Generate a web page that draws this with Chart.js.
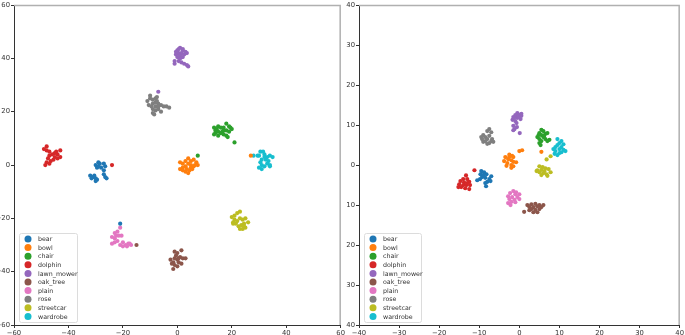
<!DOCTYPE html>
<html><head><meta charset="utf-8">
<script src="https://cdn.jsdelivr.net/npm/chart.js@4.4.1/dist/chart.umd.min.js"></script>
<style>
html,body{margin:0;padding:0;background:#fff;width:685px;height:335px;overflow:hidden;}
#w1{position:absolute;left:0;top:0;width:346px;height:335px;}
#w2{position:absolute;left:345px;top:0;width:340px;height:335px;}
</style></head><body>
<div id="w1"><canvas id="c1"></canvas></div>
<div id="w2"><canvas id="c2"></canvas></div>
<script>
const categories = ['bear','bowl','chair','dolphin','lawn_mower','oak_tree','plain','rose','streetcar','wardrobe'];
const colors = ['#1f77b4','#ff7f0e','#2ca02c','#d62728','#9467bd','#8c564b','#e377c2','#7f7f7f','#bcbd22','#17becf'];
const leftTicks = [-60,-40,-20,0,20,40,60];
const rightTicks = [-40,-30,-20,-10,0,10,20,30,40];

// Left panel
const leftBear = [[-30,0],[-29,1],[-28.5,0.5],[-27,0.5],[-26.5,-0.5],[-29.5,-1],[-28,-1],[-27,-2],[-32,-4],[-31,-4.5],[-30,-5],[-29.5,-5.5],[-30.5,-4],[-31.5,-5],[-27,-3.5],[-26.5,-4.5],[-26,-5],[-30,-6],[-29,-0.5],[-21,-22]];
const leftBowl = [[1,1],[2,0.5],[3,1.5],[4,2.5],[5,1.5],[6,2],[7,1],[6.5,0],[7.5,0],[5,0],[4,0.5],[3,-0.5],[2,-1],[1,-1.5],[2,-2],[3,-2.5],[4,-3],[5,-1],[6,-0.5],[3.5,-1.5],[4.5,-2],[5.5,-1.5],[27,3.5]];
const leftChair = [[13.5,14],[14,13],[15,14.5],[16,14],[17,14],[18,15.5],[19,14.5],[20,13.5],[14,12],[15,12.5],[16,12],[17,13],[18,13],[19,12.5],[13.5,11.5],[15,11],[17,11.5],[18,11],[18.5,10.5],[16.5,12.5],[19.5,14],[14.5,13.5],[21,8.5],[7.5,3.5]];
const leftDolphin = [[-49,6],[-48,7],[-48,5.5],[-47,5],[-46,4],[-47,3.5],[-45,3],[-44,4],[-43,5.5],[-44,2.5],[-43,3],[-45.5,2],[-46.5,1.5],[-48,1],[-48.5,0],[-47,0.5],[-45,4.5],[-44.5,5],[-47.5,2.5],[-24,0]];
const leftLawnMower = [[0,43],[1,44],[2,43],[0.5,42],[1.5,42],[-0.5,41.5],[2.5,41.5],[3.5,42],[1,41],[0,40.5],[2,40.5],[1,40],[-1,39],[-1,38],[0.5,39],[1.5,38.5],[2.5,38],[3.5,37.5],[4,37],[2,43.5],[-0.5,42.5],[3,42.5],[0.5,43.5],[-7,27.5]];
const leftOakTree = [[1.5,-32],[0,-33],[-1,-32.5],[-0.5,-34],[1,-34.5],[2,-35],[3,-35],[0,-35.5],[-1,-35],[-2.5,-35.5],[-1.5,-36.5],[0.5,-36.5],[1.5,-37],[-1,-37.5],[0,-38],[-1.5,-39],[-2,-37],[0.5,-35],[-15,-30]];
const leftPlain = [[-21,-23.5],[-22,-25],[-23,-25.5],[-22.5,-26.5],[-21.5,-26.5],[-20.5,-26.5],[-24,-27],[-23,-27.5],[-24,-29.5],[-23,-29],[-22,-28.5],[-20,-29],[-19,-30],[-18,-29.5],[-17,-30],[-18.5,-30.5],[-20,-30.5],[-21,-30],[-17.5,-29.5]];
const leftRose = [[-11,24],[-10,25],[-10,26],[-9,24.5],[-8,25],[-7.5,25.5],[-9,23],[-8,23.5],[-7,23],[-10.5,22.5],[-9.5,22],[-8,22],[-7,22],[-6,22.5],[-5,22],[-4,22],[-3,21.5],[-9,21],[-8,20.5],[-7,21],[-9,19.5],[-8.5,19],[-6,20],[-7.5,24]];
const leftStreetcar = [[20,-19.5],[21,-19],[22,-18],[23,-17.5],[21,-20.5],[20.5,-21.5],[22,-21],[23,-20],[24,-20.5],[25,-20],[26,-21.5],[24.5,-22],[23.5,-22.5],[22.5,-23],[23,-24],[24,-24],[25,-23.5],[21.5,-22],[20.5,-22],[24.5,-23]];
const leftWardrobe = [[28,3.5],[30,3.5],[30.5,5],[31.5,5],[32,4],[33,3],[34,3.5],[35,3],[31,2],[32.5,2],[33.5,1.5],[30.5,1],[31,0],[32,-0.5],[33,0.5],[34,0],[30,-1],[31,-1.5],[34,-0.5],[32,3],[29.5,3.5]];

// Right panel
const rightBear = [[-9.5,-1.5],[-8.8,-1.8],[-9.7,-2.3],[-8.2,-2.3],[-7,-2.8],[-9.3,-3],[-8.5,-3.2],[-10.5,-3.8],[-9.8,-3.5],[-7.5,-3.5],[-8,-4.2],[-7.2,-4],[-8.5,-4.5],[-8.3,-5.3],[-9,-2.5]];
const rightBowl = [[0,3.5],[0.7,3.7],[-2.5,2.6],[-1.8,2.3],[-3.5,2],[-2.8,1.5],[-2,1.2],[-1.5,2],[-3.8,1],[-3,0.5],[-1.5,0.8],[-0.8,0.7],[-2,0],[-3.2,-0.2],[-2,-0.7],[-1.5,-0.3],[-2.5,2],[5.5,3.3]];
const rightChair = [[5.5,8.8],[6,8.5],[5,8],[6.5,7.8],[7,8],[5.5,7.5],[6,7],[4.5,7],[5,6.5],[6.5,6.5],[7.5,6.3],[7,6],[5.5,6],[5,5.5],[5.3,5],[6.2,7.3],[4.8,7.5]];
const rightDolphin = [[-11.2,-1.3],[-13.3,-2.6],[-14,-3.5],[-13,-3.5],[-14.7,-4],[-13.8,-4.3],[-12.5,-4.2],[-15,-4.8],[-14,-5],[-13.2,-5],[-12.3,-5],[-14.5,-5.5],[-13.5,-5.8],[-12.5,-6],[-15.2,-5.5],[-13,-4.5]];
const rightLawnMower = [[-0.5,13],[0,12.5],[0.5,12.3],[-1,12.5],[-1.5,12],[-0.5,11.8],[0.3,11.5],[-1,11],[-1.7,11.3],[0.5,12.8],[-0.7,10.5],[-1.5,9.8],[-1.2,9],[-0.6,9.5],[-1.5,8.7],[0.1,8.0],[-0.2,12.2],[-1.3,11.8]];
const rightOakTree = [[2,-10],[3,-9.8],[4,-9.7],[5,-10],[6,-10],[2.5,-10.5],[3.5,-10.5],[4.5,-10.3],[5.5,-10.5],[3,-11],[4,-11.2],[5,-11],[3.5,-11.8],[4.5,-11.8],[1.2,-11.7],[2.5,-11.3]];
const rightPlain = [[-1.5,-6.5],[-0.8,-6.8],[-2.3,-7],[-1,-7.3],[0,-7.3],[-2.8,-7.8],[-1.8,-8],[-0.5,-8],[-2.5,-8.5],[-1.2,-8.7],[0,-8.5],[-2.8,-9.5],[-2,-9.2],[-1,-9.3],[-2.2,-10]];
const rightRose = [[-7.5,9],[-8,8.5],[-7,8.2],[-9,7.5],[-8.5,7],[-7.5,7.3],[-9.5,7],[-8,6.5],[-6.8,6.5],[-7,6],[-8.5,6],[-9,5.8],[-7.5,5.5],[-6.5,5.8],[-8,5.3],[-9.3,6.5]];
const rightStreetcar = [[5,-0.3],[5.8,-0.5],[6.5,-0.8],[4.5,-1.3],[5.5,-1.2],[6.3,-1.5],[7.3,-1],[7.8,-1.8],[5,-1.8],[6,-2],[6.8,-2.3],[5.5,-2.5],[7,-2.7],[4.3,-1.5],[6.8,1.4],[7.8,2.2]];
const rightWardrobe = [[9.5,6.5],[10.5,6],[10,5.5],[11,5.2],[9.5,5],[10.5,4.5],[9,4.5],[8.5,4],[10,4],[11,3.8],[11.5,3.5],[9,3.5],[10,3],[8.8,2.8],[9.5,2.5],[10.5,3.2]];

const leftSets = [leftBear,leftBowl,leftChair,leftDolphin,leftLawnMower,leftOakTree,leftPlain,leftRose,leftStreetcar,leftWardrobe];
const rightSets = [rightBear,rightBowl,rightChair,rightDolphin,rightLawnMower,rightOakTree,rightPlain,rightRose,rightStreetcar,rightWardrobe];

const FONT = 'DejaVu Sans';
const minus = v => String(v).replace('-', '\u2212');

const frameLegend = {
  id: 'frameLegend',
  afterDraw(chart, args, opts) {
    const ctx = chart.ctx, a = chart.chartArea;
    ctx.save();
    // top & right spines
    ctx.strokeStyle = '#b0b0b0'; ctx.lineWidth = 1.5;
    ctx.beginPath();
    ctx.moveTo(a.left, a.top + 0.5); ctx.lineTo(a.right - 0.5, a.top + 0.5); ctx.lineTo(a.right - 0.5, a.bottom);
    ctx.stroke();
    // legend
    const ds = chart.data.datasets;
    const rowH = 8.6, bx = a.left + 5, bw = opts.width, bh = ds.length * rowH + 3;
    const by = a.bottom - 3 - bh;
    ctx.fillStyle = 'rgba(255,255,255,0.8)';
    ctx.strokeStyle = '#dcdcdc'; ctx.lineWidth = 1;
    ctx.beginPath();
    if (ctx.roundRect) ctx.roundRect(bx + 0.5, by + 0.5, bw, bh, 2); else ctx.rect(bx + 0.5, by + 0.5, bw, bh);
    ctx.fill(); ctx.stroke();
    ctx.font = '6.3px "' + FONT + '"';
    ctx.textBaseline = 'middle';
    ds.forEach((d, i) => {
      const cy = by + 6 + i * rowH;
      ctx.fillStyle = d.backgroundColor;
      ctx.beginPath(); ctx.arc(bx + 9, cy, 3.5, 0, Math.PI * 2); ctx.fill();
      ctx.fillStyle = '#333';
      ctx.fillText(d.label, bx + 19, cy + 0.5);
    });
    ctx.restore();
  }
};

function makeChart(id, sets, ticks, yLabel, legendWidth, padRight) {
  const lo = ticks[0], hi = ticks[ticks.length - 1];
  const axisCommon = (isY) => ({
    type: 'linear', min: lo, max: hi,
    afterBuildTicks: s => { s.ticks = ticks.map(v => ({ value: v })); },
    afterFit: s => { if (isY) s.width = 14; else s.height = 10; },
    grid: { display: true, drawOnChartArea: false, drawTicks: true, tickLength: 3, color: '#333', tickColor: '#333' },
    border: { display: true, color: '#333', width: 1 },
    ticks: { font: { family: FONT, size: 6.8 }, color: '#333', padding: 1, autoSkip: false, maxRotation: 0,
             callback: isY ? yLabel : (v => minus(v)) }
  });
  return new Chart(document.getElementById(id), {
    type: 'scatter',
    data: {
      datasets: sets.map((pts, i) => ({
        label: categories[i],
        data: pts.map(p => ({ x: p[0], y: p[1] })),
        backgroundColor: colors[i], borderWidth: 0, pointRadius: 2.1, pointHoverRadius: 2.1
      }))
    },
    options: {
      responsive: true, maintainAspectRatio: false, animation: false,
      layout: { padding: { top: 3, right: padRight, left: 0, bottom: 0 } },
      plugins: { legend: { display: false }, tooltip: { enabled: false }, frameLegend: { width: legendWidth } },
      scales: { x: axisCommon(false), y: axisCommon(true) }
    },
    plugins: [frameLegend]
  });
}

makeChart('c1', leftSets, leftTicks, v => minus(v), 58, 5);
makeChart('c2', rightSets, rightTicks, v => String(Math.abs(v)), 57, 2);
</script>
</body></html>
